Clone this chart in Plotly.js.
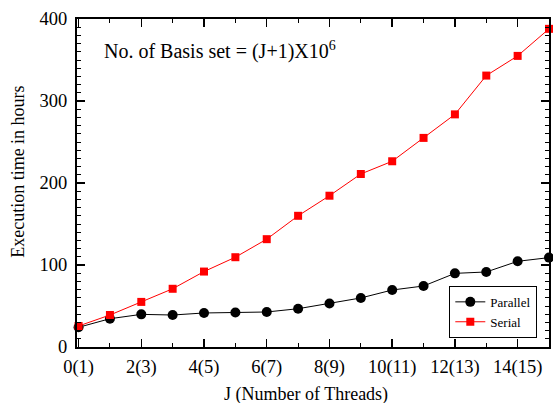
<!DOCTYPE html>
<html><head><meta charset="utf-8">
<script src="https://cdn.plot.ly/plotly-3.0.1.min.js"></script>
<style>html,body{margin:0;padding:0;background:#fff}#c{width:553px;height:403px}</style>
</head><body><div id="c"></div>
<script>
const J = [0,1,2,3,4,5,6,7,8,9,10,11,12,13,14,15];
const parallel = [24,34.5,39.8,39,41.5,42,42.7,46.7,53,59.8,69.5,74.4,89.8,91.5,104.5,109];
const serial = [25.6,39,55,71,92,109.5,131.5,160,184.5,211,226.5,255,283.7,331,355,388];
const tickVals = [0,2,4,6,8,10,12,14];
const tickLabels = ["0(1)","2(3)","4(5)","6(7)","8(9)","10(11)","12(13)","14(15)"];
const xTitle = "J (Number of Threads)";
const yTitle = "Execution time in hours";
const note = "No. of Basis set = (J+1)X10<sup>6</sup>";
const FONT = "'Times New Roman', 'Liberation Serif', 'DejaVu Serif', serif";

const traces = [
 {x:J, y:parallel, name:"Parallel", mode:"lines+markers", type:"scatter",
  line:{color:"black", width:1}, marker:{symbol:"circle", size:10, color:"black"}, cliponaxis:false},
 {x:J, y:serial, name:"Serial", mode:"lines+markers", type:"scatter",
  line:{color:"red", width:1}, marker:{symbol:"square", size:8, color:"red"}, cliponaxis:false}
];
const layout = {
 width:553, height:403,
 margin:{l:77, r:4, t:19, b:56},
 paper_bgcolor:"white", plot_bgcolor:"white",
 font:{family:FONT, color:"black", size:18},
 showlegend:true,
 legend:{x:0.882, y:0.107, xanchor:"center", yanchor:"middle", bordercolor:"black", borderwidth:1,
   font:{family:FONT, size:13}, bgcolor:"white", tracegroupgap:0, itemwidth:30},
 xaxis:{range:[-0.05,15], tickmode:"array", tickvals:tickVals, ticktext:tickLabels,
   ticks:"inside", ticklen:8, tickwidth:1.5, tickcolor:"black", showgrid:false, zeroline:false,
   showline:true, linecolor:"black", linewidth:2, mirror:"allticks", ticklabelstandoff:2,
   minor:{dtick:1, tick0:1, ticks:"inside", ticklen:4, tickwidth:1, tickcolor:"black", showgrid:false},
   tickfont:{family:FONT, size:18.5}},
 yaxis:{range:[0,400], tickvals:[0,100,200,300,400], ticktext:["0","100","200","300","400"], tickmode:"array",
   ticks:"inside", ticklen:8, tickwidth:1.5, tickcolor:"black", showgrid:false, zeroline:false,
   showline:true, linecolor:"black", linewidth:2, mirror:"allticks", ticklabelstandoff:4,
   minor:{dtick:10, tick0:0, ticks:"inside", ticklen:4, tickwidth:1, tickcolor:"black", showgrid:false},
   tickfont:{family:FONT, size:18.5}},
 annotations:[
  {text:note, xref:"paper", yref:"paper", x:0.053, y:0.905, xanchor:"left", yanchor:"middle",
   showarrow:false, font:{family:FONT, size:20}},
  {text:xTitle, xref:"paper", yref:"paper", x:0.485, y:-0.144, xanchor:"center", yanchor:"middle",
   showarrow:false, font:{family:FONT, size:18}},
  {text:yTitle, xref:"paper", yref:"paper", x:-0.125, y:0.534, xanchor:"center", yanchor:"middle",
   textangle:-90, showarrow:false, font:{family:FONT, size:18}}
 ]
};
Plotly.newPlot("c", traces, layout, {displayModeBar:false, staticPlot:true});
</script></body></html>
